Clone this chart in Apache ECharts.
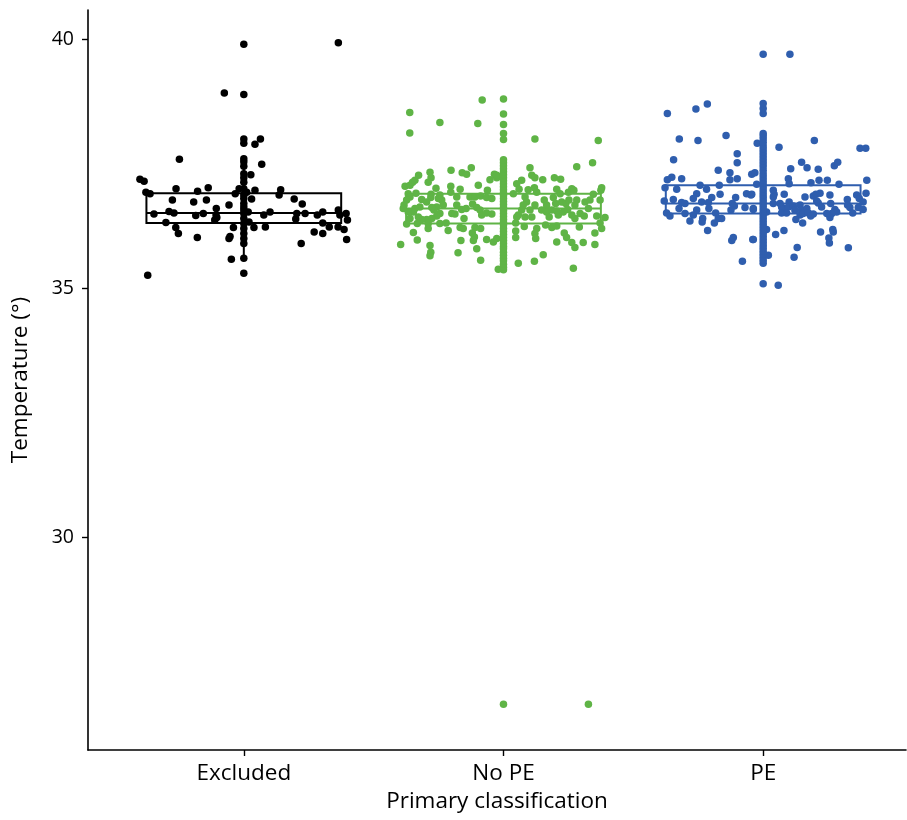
<!DOCTYPE html>
<html>
<head>
<meta charset="utf-8">
<title>Temperature by primary classification</title>
<script src="https://cdn.jsdelivr.net/npm/echarts@6/dist/echarts.min.js"></script>
<style>
  html, body { margin: 0; padding: 0; background: #ffffff; }
  #chart { width: 907px; height: 820px; }
</style>
</head>
<body>
<div id="chart"></div>
<script>
// Groups on the x axis
const categories = ['Excluded', 'No PE', 'PE'];
const groupColors = ['#000000', '#5fb446', '#2f5eae'];
const yTicks = [30, 35, 40];

// Box summaries per group: [lower whisker, Q1, median, Q3, upper whisker]
const boxExcluded = [35.60, 36.31, 36.51, 36.91, 37.60];
const boxNoPE     = [35.42, 36.30, 36.60, 36.90, 37.61];
const boxPE       = [35.66, 36.50, 36.70, 37.07, 37.91];

// Individual readings: [horizontal jitter, temperature]
const ptsExcluded = [
  [0.364, 39.93], [-0.075, 38.92], [0.064, 38.00], [0.043, 37.89], [-0.248, 37.59],
  [0.069, 37.49], [0.027, 37.28], [-0.400, 37.19], [-0.384, 37.15], [-0.377, 36.93],
  [-0.361, 36.90], [-0.261, 37.00], [-0.178, 36.95], [-0.137, 37.02], [-0.018, 37.00],
  [0.011, 36.93], [0.043, 36.97], [-0.033, 36.90], [0.142, 36.98], [0.136, 36.87],
  [0.030, 36.79], [0.194, 36.79], [-0.275, 36.77], [-0.193, 36.73], [-0.144, 36.77],
  [-0.057, 36.67], [0.225, 36.69], [-0.106, 36.60], [-0.346, 36.49], [-0.288, 36.54],
  [-0.269, 36.51], [-0.185, 36.46], [-0.156, 36.50], [-0.107, 36.47], [-0.104, 36.42],
  [-0.112, 36.37], [0.017, 36.53], [0.020, 36.33], [0.077, 36.47], [0.101, 36.53],
  [0.204, 36.50], [0.200, 36.39], [0.236, 36.50], [0.283, 36.47], [0.304, 36.53],
  [0.364, 36.57], [0.370, 36.47], [0.394, 36.50], [0.399, 36.37], [-0.300, 36.32],
  [0.304, 36.31], [-0.262, 36.22], [-0.252, 36.10], [-0.179, 36.02], [-0.040, 36.22],
  [-0.053, 36.04], [-0.057, 36.00], [0.039, 36.22], [0.083, 36.23], [0.271, 36.13],
  [0.304, 36.10], [0.329, 36.23], [0.363, 36.23], [0.386, 36.18], [0.396, 35.98],
  [0.221, 35.90], [-0.048, 35.58], [-0.370, 35.26],
  [0, 35.30], [0, 35.60], [0, 35.90], [0, 36.00], [0, 36.10], [0, 36.20], [0, 36.30],
  [0, 36.40], [0, 36.50], [0, 36.57], [0, 36.63], [0, 36.70], [0, 36.80], [0, 36.87],
  [0, 37.00], [0, 37.13], [0, 37.22], [0, 37.30], [0, 37.45], [0, 37.54], [0, 37.60],
  [0, 37.91], [0, 38.00], [0, 38.89], [0, 39.90]
];

const ptsNoPE = [
  [-0.082, 38.78], [-0.361, 38.53], [-0.245, 38.33], [-0.099, 38.31], [-0.361, 38.12],
  [-0.379, 37.05], [-0.360, 37.07], [-0.350, 37.13], [-0.341, 37.17], [-0.327, 37.27],
  [-0.283, 37.33], [-0.279, 37.22], [-0.290, 37.13], [-0.202, 37.37], [-0.159, 37.32],
  [-0.142, 37.29], [-0.124, 37.42], [-0.097, 37.07], [-0.052, 37.18], [-0.035, 37.29],
  [-0.026, 37.22], [-0.203, 37.05], [-0.260, 37.01], [-0.167, 36.99], [-0.367, 36.90],
  [-0.360, 36.83], [-0.373, 36.77], [-0.383, 36.67], [-0.386, 36.60], [-0.337, 36.91],
  [-0.279, 36.89], [-0.280, 36.82], [-0.245, 36.87], [-0.238, 36.77], [-0.251, 36.80],
  [-0.203, 36.93], [-0.180, 36.83], [-0.180, 36.67], [-0.129, 36.83], [-0.110, 36.83],
  [-0.088, 36.85], [-0.065, 36.82], [-0.045, 36.80], [-0.062, 36.97], [-0.315, 36.78],
  [-0.296, 36.73], [-0.232, 36.67], [-0.257, 36.63], [-0.268, 36.57], [-0.276, 36.62],
  [-0.322, 36.63], [-0.341, 36.60], [-0.347, 36.53], [-0.367, 36.53], [-0.161, 36.58],
  [-0.144, 36.60], [-0.119, 36.69], [-0.103, 36.62], [-0.090, 36.57], [-0.084, 36.47],
  [-0.065, 36.51], [-0.045, 36.49], [-0.245, 36.50], [-0.257, 36.45], [-0.276, 36.40],
  [-0.296, 36.38], [-0.315, 36.38], [-0.328, 36.43], [-0.199, 36.50], [-0.187, 36.49],
  [-0.152, 36.40], [-0.360, 36.40], [-0.373, 36.29], [-0.332, 36.30], [-0.290, 36.30],
  [-0.245, 36.30], [-0.221, 36.31], [-0.213, 36.16], [-0.290, 36.20], [-0.167, 36.22],
  [-0.155, 36.20], [-0.110, 36.22], [-0.120, 36.11], [-0.112, 36.03], [-0.116, 35.96],
  [-0.088, 36.20], [-0.347, 36.12], [-0.332, 35.97], [-0.396, 35.88], [-0.283, 35.86],
  [-0.280, 35.72], [-0.283, 35.65], [-0.164, 35.96], [-0.175, 35.71], [-0.103, 35.79],
  [-0.065, 35.98], [-0.039, 35.93], [-0.026, 36.00], [-0.088, 35.56], [-0.020, 35.38],
  [0.121, 38.00], [0.365, 37.97], [0.343, 37.52], [0.282, 37.44], [0.102, 37.42],
  [0.109, 37.27], [0.121, 37.22], [0.151, 37.18], [0.196, 37.22], [0.220, 37.19],
  [0.070, 37.17], [0.051, 37.10], [0.060, 36.99], [-0.026, 37.27], [0.095, 36.98],
  [0.119, 37.02], [0.128, 36.93], [0.205, 36.99], [0.218, 36.90], [0.250, 36.93],
  [0.263, 37.00], [0.271, 36.97], [0.378, 37.02], [0.375, 36.97], [0.346, 36.89],
  [0.038, 36.90], [0.083, 36.83], [0.089, 36.73], [0.076, 36.67], [0.070, 36.57],
  [0.057, 36.47], [0.157, 36.77], [0.166, 36.67], [0.192, 36.82], [0.201, 36.70],
  [0.224, 36.73], [0.240, 36.70], [0.252, 36.77], [0.282, 36.77], [0.275, 36.67],
  [0.314, 36.73], [0.333, 36.77], [0.372, 36.77], [0.121, 36.67], [0.102, 36.57],
  [0.109, 36.43], [0.147, 36.57], [0.166, 36.53], [0.186, 36.57], [0.205, 36.55],
  [0.211, 36.47], [0.230, 36.53], [0.247, 36.58], [0.263, 36.47], [0.275, 36.40],
  [0.295, 36.50], [0.311, 36.45], [0.327, 36.60], [0.176, 36.43], [0.359, 36.45],
  [0.391, 36.42], [0.051, 36.43], [0.083, 36.43], [0.047, 36.31], [0.080, 36.24],
  [0.047, 36.15], [0.047, 36.02], [0.128, 36.20], [0.121, 36.10], [0.124, 36.00],
  [0.162, 36.27], [0.186, 36.22], [0.205, 36.25], [0.234, 36.11], [0.243, 36.02],
  [0.263, 35.92], [0.275, 35.82], [0.292, 36.23], [0.352, 36.11], [0.372, 36.31],
  [0.378, 36.20], [0.307, 35.92], [0.352, 35.88], [0.205, 35.93], [0.153, 35.67],
  [0.119, 35.54], [0.057, 35.50], [0.269, 35.40], [0.327, 26.64],
  [0, 26.64], [0, 35.37], [0, 35.42], [0, 35.48], [0, 35.55], [0, 35.60], [0, 35.66],
  [0, 35.72], [0, 35.79], [0, 35.84], [0, 35.90], [0, 35.96], [0, 36.02], [0, 36.08],
  [0, 36.14], [0, 36.20], [0, 36.27], [0, 36.32], [0, 36.38], [0, 36.44], [0, 36.50],
  [0, 36.56], [0, 36.62], [0, 36.68], [0, 36.74], [0, 36.80], [0, 36.86], [0, 36.92],
  [0, 36.98], [0, 37.04], [0, 37.10], [0, 37.16], [0, 37.22], [0, 37.28], [0, 37.34],
  [0, 37.40], [0, 37.46], [0, 37.52], [0, 37.58], [0, 37.99], [0, 38.11], [0, 38.29],
  [0, 38.50], [0, 38.80]
];

const ptsPE = [
  [-0.369, 38.51], [-0.259, 38.60], [-0.215, 38.70], [-0.323, 38.00], [-0.251, 37.97],
  [-0.143, 38.07], [-0.345, 37.58], [-0.100, 37.70], [-0.100, 37.52], [-0.173, 37.37],
  [-0.128, 37.32], [-0.352, 37.23], [-0.369, 37.18], [-0.314, 37.20], [-0.128, 37.18],
  [-0.100, 37.20], [-0.044, 37.29], [-0.032, 37.32], [0.103, 39.70], [-0.023, 37.91],
  [0.061, 37.83], [0.197, 37.97], [0.373, 37.81], [0.395, 37.81], [0.148, 37.53],
  [0.106, 37.40], [0.169, 37.42], [0.212, 37.39], [0.274, 37.46], [0.287, 37.53],
  [0.097, 37.20], [0.215, 37.17], [0.247, 37.17], [0.399, 37.17], [-0.378, 37.02],
  [-0.333, 36.99], [-0.243, 37.07], [-0.218, 36.99], [-0.169, 37.07], [-0.256, 36.90],
  [-0.269, 36.80], [-0.198, 36.82], [-0.166, 36.89], [-0.381, 36.75], [-0.346, 36.78],
  [-0.314, 36.72], [-0.301, 36.70], [-0.237, 36.73], [-0.211, 36.72], [-0.106, 36.82],
  [-0.119, 36.70], [-0.111, 36.65], [-0.064, 36.90], [-0.047, 36.87], [-0.070, 36.62],
  [-0.038, 36.60], [-0.324, 36.60], [-0.256, 36.57], [-0.269, 36.47], [-0.301, 36.50],
  [-0.372, 36.51], [-0.359, 36.45], [-0.209, 36.60], [-0.183, 36.51], [-0.173, 36.40],
  [-0.233, 36.40], [-0.235, 36.33], [-0.282, 36.35], [-0.188, 36.31], [-0.160, 36.40],
  [-0.124, 36.57], [-0.214, 36.16], [-0.121, 35.96], [-0.115, 36.02], [-0.040, 35.98],
  [-0.080, 35.54], [0.100, 37.10], [0.184, 37.12], [0.292, 37.09], [-0.025, 37.09],
  [0.039, 36.97], [0.042, 36.89], [0.039, 36.83], [0.081, 36.89], [0.100, 36.73],
  [0.161, 36.83], [0.193, 36.85], [0.203, 36.89], [0.219, 36.91], [0.206, 36.75],
  [0.257, 36.87], [0.324, 36.78], [0.360, 36.87], [0.370, 36.80], [0.385, 36.73],
  [0.396, 36.91], [-0.044, 36.89], [0.039, 36.70], [0.065, 36.70], [0.071, 36.63],
  [0.075, 36.58], [0.097, 36.63], [0.116, 36.65], [0.142, 36.67], [0.122, 36.57],
  [0.148, 36.57], [0.168, 36.60], [0.142, 36.47], [0.154, 36.50], [0.174, 36.51],
  [0.193, 36.49], [0.212, 36.71], [0.225, 36.63], [0.260, 36.70], [0.276, 36.58],
  [0.283, 36.53], [0.264, 36.50], [0.257, 36.42], [0.325, 36.67], [0.334, 36.62],
  [0.366, 36.62], [0.385, 36.58], [0.345, 36.51], [-0.038, 36.58], [0.013, 36.53],
  [0.071, 36.51], [0.090, 36.51], [0.245, 36.50], [0.183, 36.45], [0.126, 36.38],
  [0.152, 36.31], [0.221, 36.13], [0.080, 36.16], [0.048, 36.08], [0.013, 36.18],
  [0.268, 36.18], [0.270, 36.13], [0.253, 36.01], [0.255, 35.91], [-0.038, 35.98],
  [0.131, 35.82], [0.119, 35.62], [0.328, 35.81], [0.020, 35.66], [0.058, 35.06],
  [0, 35.09], [0, 35.50], [0, 35.56], [0, 35.62], [0, 35.68], [0, 35.74], [0, 35.80],
  [0, 35.86], [0, 35.92], [0, 35.98], [0, 36.04], [0, 36.10], [0, 36.16], [0, 36.22],
  [0, 36.28], [0, 36.34], [0, 36.40], [0, 36.46], [0, 36.52], [0, 36.58], [0, 36.64],
  [0, 36.70], [0, 36.76], [0, 36.82], [0, 36.88], [0, 36.94], [0, 37.00], [0, 37.06],
  [0, 37.12], [0, 37.18], [0, 37.24], [0, 37.30], [0, 37.37], [0, 37.44], [0, 37.50],
  [0, 37.56], [0, 37.62], [0, 37.68], [0, 37.74], [0, 37.80], [0, 37.86], [0, 37.93],
  [0, 38.00], [0, 38.06], [0, 38.11], [0, 38.51], [0, 38.61], [0, 38.71], [0, 39.70]
];

const boxes = [boxExcluded, boxNoPE, boxPE];
const pointGroups = [ptsExcluded, ptsNoPE, ptsPE];
const BOX_HALF = 0.375;
const textColor = '#000000';
const fontFamily = '"Open Sans", "Noto Sans", sans-serif';

const chart = echarts.init(document.getElementById('chart'), null, { renderer: 'canvas' });

const boxData = boxes.map((b, i) => [i + 1].concat(b));

// Box outline, median bar and whiskers drawn in data coordinates
function renderBox(params, api) {
  const x = api.value(0);
  const lo = api.value(1), q1 = api.value(2), med = api.value(3), q3 = api.value(4), hi = api.value(5);
  const color = groupColors[params.dataIndex];
  const pL = api.coord([x - BOX_HALF, q3]);
  const pR = api.coord([x + BOX_HALF, q1]);
  const pMedL = api.coord([x - BOX_HALF, med]);
  const pMedR = api.coord([x + BOX_HALF, med]);
  const pLo = api.coord([x, lo]);
  const pQ1 = api.coord([x, q1]);
  const pQ3 = api.coord([x, q3]);
  const pHi = api.coord([x, hi]);
  const style = { stroke: color, lineWidth: 2, fill: null };
  return {
    type: 'group',
    children: [
      { type: 'line', shape: { x1: pHi[0], y1: pHi[1], x2: pQ3[0], y2: pQ3[1] }, style: style },
      { type: 'line', shape: { x1: pQ1[0], y1: pQ1[1], x2: pLo[0], y2: pLo[1] }, style: style },
      { type: 'rect', shape: { x: pL[0], y: pL[1], width: pR[0] - pL[0], height: pR[1] - pL[1] }, style: style },
      { type: 'line', shape: { x1: pMedL[0], y1: pMedL[1], x2: pMedR[0], y2: pMedR[1] }, style: style }
    ]
  };
}

const scatterSeries = pointGroups.map((pts, i) => ({
  type: 'scatter',
  name: categories[i],
  data: pts.map(p => [i + 1 + p[0], p[1]]),
  symbol: 'circle',
  symbolSize: 7.5,
  itemStyle: { color: groupColors[i], opacity: 1 },
  silent: true,
  z: 3
}));

chart.setOption({
  animation: false,
  backgroundColor: '#ffffff',
  grid: { left: 88, right: 1, top: 10, bottom: 70, containLabel: false },
  xAxis: {
    type: 'value',
    min: 0.4,
    max: 3.55,
    name: 'Primary classification',
    nameLocation: 'middle',
    nameGap: 37,
    nameTextStyle: { fontSize: 22.5, color: textColor, fontFamily: fontFamily },
    axisLine: { show: true, onZero: false, lineStyle: { color: '#000', width: 1.6 } },
    axisTick: { show: true, length: 6, lineStyle: { color: '#000', width: 1.4 }, customValues: [1, 2, 3] },
    axisLabel: {
      customValues: [1, 2, 3],
      formatter: v => categories[Math.round(v) - 1],
      fontSize: 22.5, color: textColor, fontFamily: fontFamily, margin: 12
    },
    splitLine: { show: false }
  },
  yAxis: {
    type: 'value',
    min: 25.72,
    max: 40.59,
    name: 'Temperature (°)',
    nameLocation: 'middle',
    nameGap: 56,
    nameRotate: 90,
    nameTextStyle: { fontSize: 22.5, color: textColor, fontFamily: fontFamily },
    axisLine: { show: true, onZero: false, lineStyle: { color: '#000', width: 1.6 } },
    axisTick: { show: true, length: 6, lineStyle: { color: '#000', width: 1.4 }, customValues: yTicks },
    axisLabel: { customValues: yTicks, fontSize: 19.5, color: textColor, fontFamily: fontFamily, margin: 14 },
    splitLine: { show: false }
  },
  series: [
    {
      type: 'custom',
      renderItem: renderBox,
      data: boxData,
      encode: { x: 0, y: [1, 2, 3, 4, 5] },
      silent: true,
      z: 2
    }
  ].concat(scatterSeries)
});
</script>
</body>
</html>
